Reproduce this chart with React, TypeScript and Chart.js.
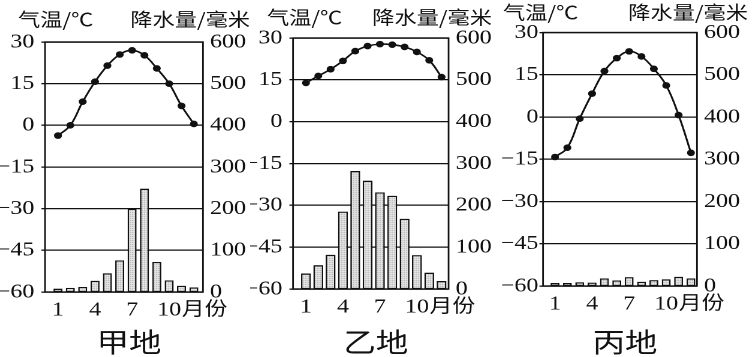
import React, { useEffect, useRef } from 'react';
import { Chart, registerables } from 'chart.js';

Chart.register(...registerables);

// ---------------- data ----------------
const MONTHS = [1, 2, 3, 4, 5, 6, 7, 8, 9, 10, 11, 12];
const MONTH_TICKS = [1, 4, 7, 10];
const TEMP_TICKS = [-60, -45, -30, -15, 0, 15, 30];
const PRECIP_TICKS = [0, 100, 200, 300, 400, 500, 600];

const STATION_NAMES = ['甲地', '乙地', '丙地'];
const TEMP_TITLE = '气温/℃';
const PRECIP_TITLE = '降水量/毫米';
const MONTH_UNIT = '月份';

const JIA_TEMP = [-3.7, 0, 8.5, 15.7, 21.5, 25.5, 27, 25.2, 20.5, 15, 7, 0.5];
const JIA_PRECIP = [8, 10, 12, 27, 45, 76, 200, 248, 72, 28, 15, 11];

const YI_TEMP = [13.9, 16.4, 18.8, 21.8, 25.3, 27.1, 27.8, 27.6, 26.8, 25, 22, 16];
const YI_PRECIP = [37, 57, 82, 185, 282, 259, 231, 223, 168, 81, 39, 19];

const BING_TEMP = [-14.2, -10.9, -0.6, 8.3, 16.3, 20.9, 23.3, 21.5, 17.1, 11.2, 0.7, -12.7];
const BING_PRECIP = [7, 7, 9, 8, 18, 13, 21, 10, 14, 16, 22, 18];

const TEMPS = [JIA_TEMP, YI_TEMP, BING_TEMP];
const PRECIPS = [JIA_PRECIP, YI_PRECIP, BING_PRECIP];

// ---------------- layout (page px) ----------------
const S = 1.2; // horizontal stretch of the scanned figure
const H = 357;
const SERIF = '"Liberation Serif", "Times New Roman", Times, serif';
const CJK = '"Noto Sans CJK SC", "Noto Sans", sans-serif';

const PANELS = [
  { left: 0, width: 252, plotLeft: 45, plotRight: 203, top: 42, bottom: 292, xMin: -0.05, xMax: 12.74, leftPad: 7, lx: 18, rx: 250, ty: 19.5, bar: 0.73 },
  { left: 250, width: 250, plotLeft: 293, plotRight: 449, top: 38, bottom: 289, xMin: -0.05, xMax: 12.57, leftPad: 7, lx: 267, rx: 492, ty: 17.5, bar: 0.8 },
  { left: 500, width: 252, plotLeft: 543, plotRight: 697, top: 32.5, bottom: 286, xMin: 0.03, xMax: 12.49, leftPad: 1, lx: 503, rx: 748, ty: 12.5, bar: 0.72 },
];

const fmt = (v: number) => String(v).replace('-', '\u2212');

const decorPlugin = {
  id: 'decor',
  afterDraw(chart: any, _args: any, opts: any) {
    const { ctx, chartArea } = chart;
    const p = opts.panel;
    ctx.save();
    // frame
    ctx.strokeStyle = '#111';
    ctx.lineWidth = 1.4;
    ctx.strokeRect(chartArea.left, chartArea.top, chartArea.right - chartArea.left, chartArea.bottom - chartArea.top);
    // axis titles
    ctx.fillStyle = '#111';
    ctx.font = `18.5px ${CJK}`;
    ctx.textBaseline = 'middle';
    ctx.textAlign = 'left';
    ctx.fillText(TEMP_TITLE, (p.lx - p.left) / S, p.ty);
    ctx.textAlign = 'right';
    ctx.fillText(PRECIP_TITLE, (p.rx - p.left) / S, p.ty);
    // month unit after "10"
    const xs = chart.scales.x;
    const last = MONTH_TICKS[MONTH_TICKS.length - 1];
    const x10 = xs.getPixelForValue(last);
    ctx.font = `20px ${SERIF}`;
    const w10 = ctx.measureText(String(last)).width;
    ctx.font = `19px ${CJK}`;
    ctx.textAlign = 'left';
    ctx.textBaseline = 'alphabetic';
    ctx.fillText(MONTH_UNIT, x10 + w10 / 2 + 0.5, p.bottom + 23);
    // station name
    ctx.font = `27px ${CJK}`;
    ctx.textAlign = 'center';
    ctx.textBaseline = 'middle';
    ctx.fillText(opts.name, (chartArea.left + chartArea.right) / 2 + 5 / S, 342);
    ctx.restore();
  },
};

function Panel({ idx }: { idx: number }) {
  const ref = useRef<HTMLCanvasElement | null>(null);
  const p = PANELS[idx];
  const cw = p.width / S;

  useEffect(() => {
    const canvas = ref.current;
    if (!canvas) return;
    const pc = document.createElement('canvas');
    pc.width = 2;
    pc.height = 2;
    const pctx = pc.getContext('2d')!;
    pctx.fillStyle = '#ececec';
    pctx.fillRect(0, 0, 2, 2);
    pctx.fillStyle = '#9a9a9a';
    pctx.fillRect(0, 0, 1, 1);
    const pattern = canvas.getContext('2d')!.createPattern(pc, 'repeat');

    const leftW = (p.plotLeft - p.left) / S;
    const rightW = cw - (p.plotRight - p.left) / S;

    const chart = new Chart(canvas, {
      type: 'bar',
      data: {
        datasets: [
          {
            type: 'line',
            data: MONTHS.map((m, i) => ({ x: m, y: TEMPS[idx][i] })),
            yAxisID: 'yT',
            borderColor: '#111',
            borderWidth: 1.6,
            tension: 0.4,
            pointRadius: 3.3,
            pointBackgroundColor: '#111',
            pointBorderWidth: 0,
            order: 0,
          } as any,
          {
            type: 'bar',
            data: MONTHS.map((m, i) => ({ x: m, y: PRECIPS[idx][i] })),
            yAxisID: 'yP',
            backgroundColor: pattern as any,
            borderColor: '#111',
            borderWidth: 1.3,
            borderSkipped: false,
            barPercentage: p.bar,
            categoryPercentage: 1,
            order: 1,
          } as any,
        ],
      },
      options: {
        responsive: false,
        animation: false,
        devicePixelRatio: 2,
        layout: { padding: { left: 0, right: 0, top: p.top, bottom: 0 } },
        plugins: {
          legend: { display: false },
          tooltip: { enabled: false },
          decor: { panel: p, name: STATION_NAMES[idx] },
        } as any,
        scales: {
          x: {
            type: 'linear',
            min: p.xMin,
            max: p.xMax,
            offset: false,
            grid: { display: false, drawTicks: false },
            border: { display: false },
            afterBuildTicks: (s: any) => {
              s.ticks = MONTH_TICKS.map((v) => ({ value: v }));
            },
            afterFit: (s: any) => {
              s.height = H - p.bottom;
            },
            ticks: {
              autoSkip: false,
              maxRotation: 0,
              padding: 6,
              color: '#111',
              font: { family: SERIF, size: 20 },
              callback: (v: any) => fmt(v),
            },
          },
          yT: {
            type: 'linear',
            position: 'left',
            min: TEMP_TICKS[0],
            max: TEMP_TICKS[TEMP_TICKS.length - 1],
            grid: { display: true, color: '#111', lineWidth: 1.3, drawTicks: true, tickLength: 3 },
            border: { display: false },
            afterBuildTicks: (s: any) => {
              s.ticks = TEMP_TICKS.map((v) => ({ value: v }));
            },
            afterFit: (s: any) => {
              s.width = leftW;
            },
            ticks: {
              padding: p.leftPad / S,
              color: '#111',
              font: { family: SERIF, size: 20 },
              callback: (v: any) => fmt(v),
            },
          },
          yP: {
            type: 'linear',
            position: 'right',
            min: PRECIP_TICKS[0],
            max: PRECIP_TICKS[PRECIP_TICKS.length - 1],
            grid: { display: false, drawTicks: false },
            border: { display: false },
            afterBuildTicks: (s: any) => {
              s.ticks = PRECIP_TICKS.map((v) => ({ value: v }));
            },
            afterFit: (s: any) => {
              s.width = rightW;
            },
            ticks: {
              padding: 7 / S,
              color: '#111',
              font: { family: SERIF, size: 20 },
              callback: (v: any) => fmt(v),
            },
          },
        },
      } as any,
      plugins: [decorPlugin],
    });

    let alive = true;
    const fonts: any = (document as any).fonts;
    if (fonts && fonts.load) {
      Promise.all([
        fonts.load(`20px "Liberation Serif"`),
        fonts.load(`19px "Noto Sans CJK SC"`),
      ])
        .catch(() => null)
        .then(() => {
          if (alive) chart.update();
        });
    }
    return () => {
      alive = false;
      chart.destroy();
    };
  }, [idx]);

  return (
    <div
      style={{
        position: 'absolute',
        left: p.left,
        top: 0,
        width: cw,
        height: H,
        transform: `scaleX(${S})`,
        transformOrigin: '0 0',
      }}
    >
      <canvas ref={ref} width={Math.round(cw)} height={H} style={{ display: 'block' }} />
    </div>
  );
}

export default function App() {
  return (
    <div
      style={{
        position: 'absolute',
        left: 0,
        top: 0,
        width: 752,
        height: H,
        overflow: 'hidden',
        background: '#fff',
      }}
    >
      {PANELS.map((_, i) => (
        <Panel key={i} idx={i} />
      ))}
    </div>
  );
}
